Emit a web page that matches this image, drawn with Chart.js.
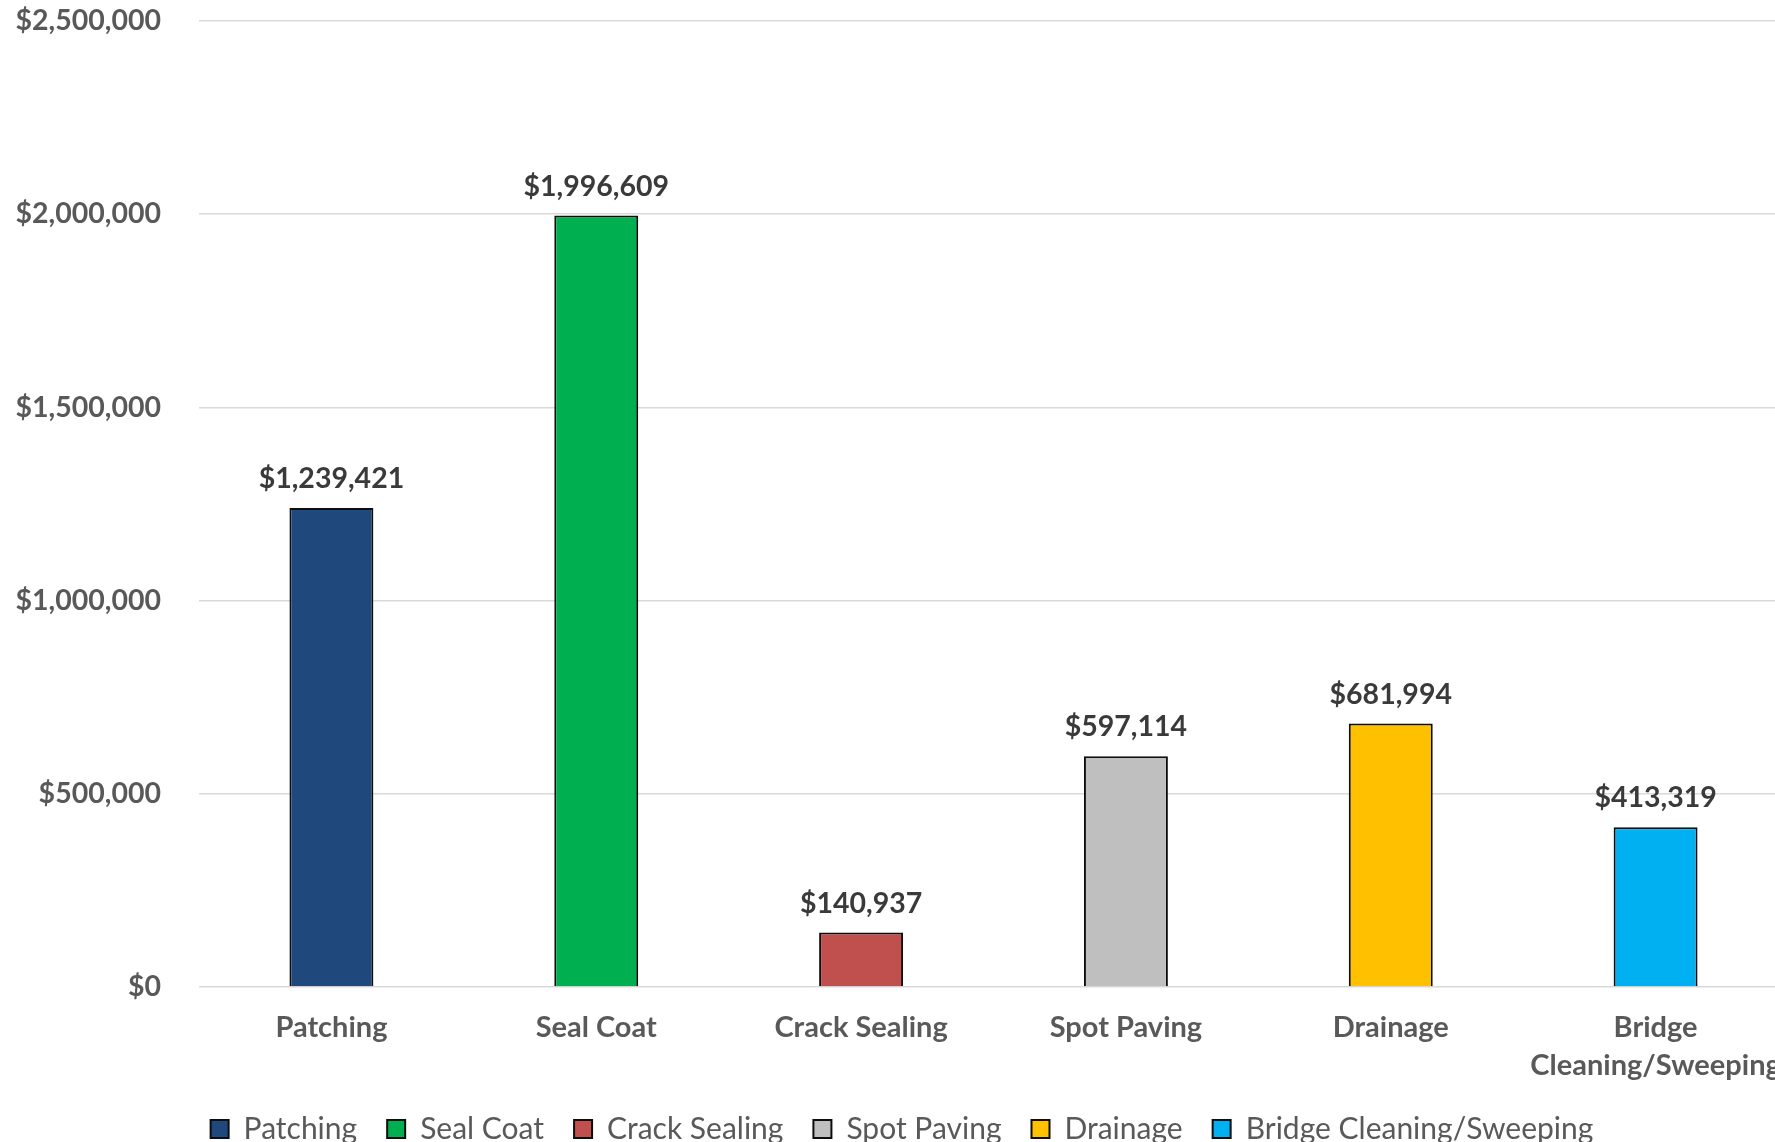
<!DOCTYPE html>
<html>
<head>
<meta charset="utf-8">
<script src="https://cdn.jsdelivr.net/npm/chart.js@4.4.1/dist/chart.umd.min.js"></script>
<style>
  html, body { margin: 0; padding: 0; overflow: hidden; background: #fff; }
  #wrap { position: absolute; left: 0; top: 0; width: 1810px; height: 1154px; }
</style>
</head>
<body>
<div id="wrap"><canvas id="costChart"></canvas></div>
<script>
// chart data
var categories = ['Patching', 'Seal Coat', 'Crack Sealing', 'Spot Paving', 'Drainage', ['Bridge', 'Cleaning/Sweeping']];
var legendNames = ['Patching', 'Seal Coat', 'Crack Sealing', 'Spot Paving', 'Drainage', 'Bridge Cleaning/Sweeping'];
var costs = [1239421, 1996609, 140937, 597114, 681994, 413319];
var barColors = ['#1F497D', '#00B050', '#C0504D', '#BFBFBF', '#FFC000', '#00B0F0'];
var yTicks = [0, 500000, 1000000, 1500000, 2000000, 2500000];

function money(v) {
    return '$' + Math.round(v).toLocaleString('en-US');
}

// draws the value above each bar
var valueLabels = {
    id: 'valueLabels',
    afterDatasetsDraw: function (chart) {
        var ctx = chart.ctx;
        var meta = chart.getDatasetMeta(0);
        ctx.save();
        ctx.font = 'bold 28.5px Lato';
        ctx.fillStyle = '#3a3a3a';
        ctx.textAlign = 'center';
        ctx.textBaseline = 'middle';
        meta.data.forEach(function (bar, i) {
            ctx.fillText(money(costs[i]), bar.x, bar.y - 29);
        });
        ctx.restore();
    }
};

function drawChart() {
    const chart = document.getElementById('costChart');

    new Chart(chart, {
        type: 'bar',
        data: {
            labels: categories,
            datasets: [{
                data: costs,
                backgroundColor: barColors,
                borderColor: '#0d0d0d',
                borderWidth: 2,
                barPercentage: 0.317,
                categoryPercentage: 1
            }]
        },
        options: {
            responsive: true,
            maintainAspectRatio: false,
            animation: false,
            layout: { padding: { left: 16, right: 22, top: 21, bottom: 0 } },
            scales: {
                x: {
                    grid: { display: false, drawTicks: false },
                    border: { display: false },
                    afterFit: function (axis) { axis.height = 97; },
                    ticks: {
                        color: '#595959',
                        padding: 22,
                        maxRotation: 0,
                        autoSkip: false,
                        font: { family: 'Lato', size: 29, weight: 'bold', lineHeight: 1.3 }
                    }
                },
                y: {
                    min: 0,
                    max: 2500000,
                    afterBuildTicks: function (axis) {
                        axis.ticks = yTicks.map(function (v) { return { value: v }; });
                    },
                    afterFit: function (axis) {
                        axis.width = 183;
                        axis.paddingTop = 0;
                        axis.paddingBottom = 0;
                    },
                    grid: { color: '#D9D9D9', lineWidth: 1.5, drawTicks: false },
                    border: { display: false },
                    ticks: {
                        color: '#595959',
                        padding: 38,
                        font: { family: 'Lato', size: 28.5, weight: 'bold' },
                        callback: function (v) { return money(v); }
                    }
                }
            },
            plugins: {
                tooltip: { enabled: false },
                legend: {
                    position: 'bottom',
                    labels: {
                        color: '#595959',
                        boxWidth: 18,
                        boxHeight: 18,
                        padding: 30,
                        font: { family: 'Lato', size: 30 },
                        generateLabels: function () {
                            return legendNames.map(function (name, i) {
                                return {
                                    text: name,
                                    fillStyle: barColors[i],
                                    strokeStyle: '#0d0d0d',
                                    lineWidth: 2,
                                    fontColor: '#595959',
                                    index: i
                                };
                            });
                        }
                    }
                }
            }
        },
        plugins: [valueLabels]
    });
}

Promise.all([
    document.fonts.load('bold 28px Lato'),
    document.fonts.load('30px Lato')
]).then(drawChart, drawChart);
</script>
</body>
</html>
